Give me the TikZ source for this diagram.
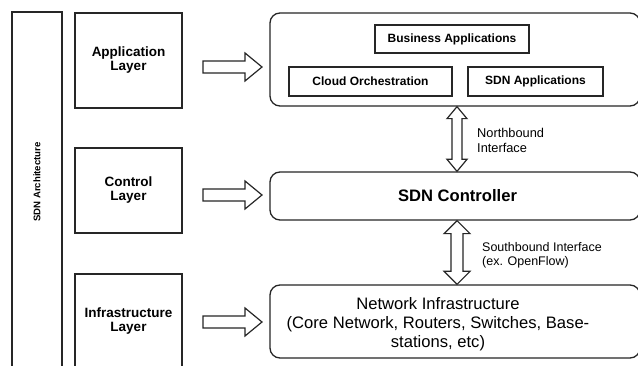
\documentclass[tikz,border=0pt]{standalone}
\usepackage{fontspec}
\setmainfont{Liberation Sans}
\usetikzlibrary{calc}

\tikzset{
  boxline/.style={draw=black!85, line width=1.3pt},
  layerbox/.style={boxline, minimum width=107pt, inner sep=0pt, align=center,
    font=\bfseries\fontsize{13.5}{14}\selectfont},
  bigbox/.style={boxline, rounded corners=10pt, minimum width=370pt, inner sep=0pt, align=center},
  appbox/.style={boxline, inner sep=0pt, font=\bfseries\fontsize{12}{13}\selectfont},
  sidelabel/.style={inner sep=0pt, align=left, font=\fontsize{12.8}{15}\selectfont},
  hollow/.style={draw=black!85, line width=1.2pt, fill=white, line join=miter},
  rightarrow/.pic={
    \draw[hollow] (-29.5,-6) -- (12.5,-6) -- (12.5,-14) -- (29.5,0) -- (12.5,14)
      -- (12.5,6) -- (-29.5,6) -- cycle;
  }
}

\begin{document}
\begin{tikzpicture}[x=1pt, y=-1pt]
\useasboundingbox (0,0) rectangle (638,366);
\clip (0,0) rectangle (638,366);
\fill[white] (0,0) rectangle (638,366);

% left column: architecture bar and the three layers
\node[boxline, minimum width=50pt, minimum height=388pt, inner sep=0pt] (arch) at (37,206) {};
\node[rotate=90, inner sep=0pt, font=\bfseries\fontsize{9.6}{10}\selectfont] (archlabel) at (37,182) {SDN Architecture};

\node[layerbox, minimum height=95pt] (applayer) at (128.5,60.5) {Application\\Layer};
\node[layerbox, minimum height=85pt] (ctrllayer) at (128.5,190.5) {Control\\Layer};
\node[layerbox, minimum height=94pt] (infralayer) at (128.5,321) {Infrastructure\\Layer};

% layer-to-plane arrows
\pic at (232.5,67) {rightarrow};
\pic at (232.5,195) {rightarrow};
\pic at (232.5,322) {rightarrow};

% application plane
\node[bigbox, minimum height=93pt] (apps) at (455,59.5) {};
\node[appbox, minimum width=154pt, minimum height=28pt] (business) at (452,39) {Business Applications};
\node[appbox, minimum width=163pt, minimum height=29pt] (cloud) at (370.5,81.5) {Cloud Orchestration};
\node[appbox, minimum width=135pt, minimum height=29pt] (sdnapps) at (535.5,81.5) {SDN Applications};

% control plane
\node[bigbox, minimum height=48pt, font=\bfseries\fontsize{16.6}{18}\selectfont] (ctrl) at (455,196) {\hspace*{5pt}SDN Controller};

% infrastructure plane
\node[bigbox, minimum height=73pt] (net) at (455,321.5) {};
\node[inner sep=0pt, align=center, font=\fontsize{16.6}{19}\selectfont] (nettext) at (438,324)
  {Network Infrastructure\\(Core Network, Routers, Switches, Base-\\stations, etc)};

% northbound interface
\coordinate (n1) at (apps.south -| 457,0);
\coordinate (n2) at (ctrl.north -| 457,0);
\draw[hollow] (n1) -- ($(n1)+(10,12)$) -- ($(n1)+(5,12)$) -- ($(n2)+(5,-12)$)
  -- ($(n2)+(10,-12)$) -- (n2) -- ($(n2)+(-10,-12)$) -- ($(n2)+(-5,-12)$)
  -- ($(n1)+(-5,12)$) -- ($(n1)+(-10,12)$) -- cycle;
\node[sidelabel, anchor=west] (nblabel) at (477,140.5) {Northbound\\Interface};

% southbound interface
\coordinate (s1) at (ctrl.south -| 457,0);
\coordinate (s2) at (net.north -| 457,0);
\draw[hollow] (s1) -- ($(s1)+(13,13)$) -- ($(s1)+(6,13)$) -- ($(s2)+(6,-13)$)
  -- ($(s2)+(13,-13)$) -- (s2) -- ($(s2)+(-13,-13)$) -- ($(s2)+(-6,-13)$)
  -- ($(s1)+(-6,13)$) -- ($(s1)+(-13,13)$) -- cycle;
\node[sidelabel, anchor=west, font=\fontsize{12.5}{14}\selectfont] (sblabel) at (482,255) {Southbound Interface\\(ex. OpenFlow)};
\end{tikzpicture}
\end{document}
